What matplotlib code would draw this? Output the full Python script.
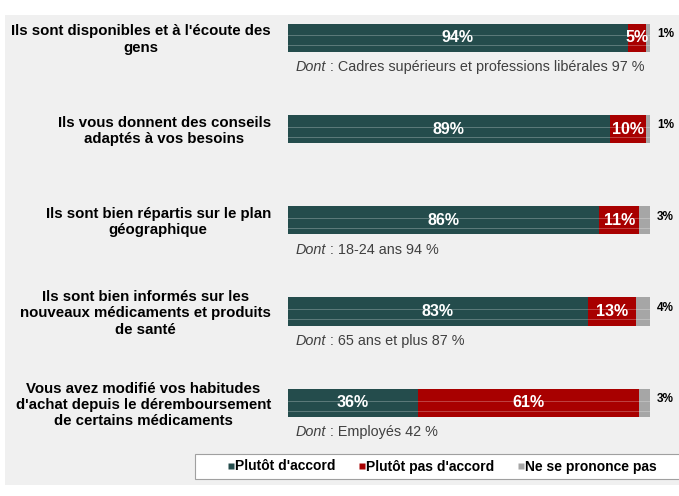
import numpy as np
import matplotlib
matplotlib.use("Agg")
import matplotlib.pyplot as plt
from matplotlib.patches import Rectangle
from matplotlib.lines import Line2D

plt.rcParams["font.family"] = ["Liberation Sans", "DejaVu Sans"]

# ------------ data --------------
questions = [
    "Ils sont disponibles et à l'écoute des\ngens",
    "Ils vous donnent des conseils\nadaptés à vos besoins",
    "Ils sont bien répartis sur le plan\ngéographique",
    "Ils sont bien informés sur les\nnouveaux médicaments et produits\nde santé",
    "Vous avez modifié vos habitudes\nd'achat depuis le déremboursement\nde certains médicaments",
]
accord = [94, 89, 86, 83, 36]
pas_accord = [5, 10, 11, 13, 61]
nsp = [1, 1, 3, 4, 3]
dont_texts = [
    " : Cadres supérieurs et professions libérales 97 %",
    None,
    " : 18-24 ans 94 %",
    " : 65 ans et plus 87 %",
    " : Employés 42 %",
]
series_names = ["Plutôt d'accord", "Plutôt pas d'accord", "Ne se prononce pas"]

TEAL = "#244c4c"
RED = "#a80000"
GREY = "#a6a6a6"
colors = [TEAL, RED, GREY]

# ------------ figure --------------
fig = plt.figure(figsize=(6.79, 4.96), dpi=100)
W, H = 679, 496

# light grey panel behind everything
fig.patches.append(Rectangle((5 / W, 1 - 485 / H), 674 / W, 470 / H,
                             transform=fig.transFigure, facecolor="#f0f0f0",
                             edgecolor="none", zorder=-5))
# white legend box
fig.patches.append(Rectangle((195 / W, 1 - 479 / H), 490 / W, 25 / H,
                             transform=fig.transFigure, facecolor="white",
                             edgecolor="#a0a0a0", linewidth=0.8, zorder=-4))

ax = fig.add_axes([287.5 / W, 0.0772, 362.5 / W, 0.9204])
ax.set_facecolor("none")
ax.set_xlim(0, 100)
ax.set_ylim(4.6, -0.4)
ax.axis("off")

y = np.arange(len(questions))
h = 0.31
left = np.zeros(len(questions))
for vals, col in zip([accord, pas_accord, nsp], colors):
    ax.barh(y, vals, left=left, height=h, color=col, edgecolor="none", zorder=2)
    left += np.array(vals)

# subtle glossy lines across the bars
for yi in y:
    for off in (-0.025, 0.085):
        ax.plot([0, 100], [yi + off, yi + off], color="white", lw=0.6, alpha=0.3, zorder=3)

for i in range(len(questions)):
    a, p, n = accord[i], pas_accord[i], nsp[i]
    ax.text(a / 2, i, f"{a}%", color="white", ha="center", va="center",
            fontsize=11.5, fontweight="bold", zorder=4)
    ax.text(a + p / 2, i, f"{p}%", color="white", ha="center", va="center",
            fontsize=11.5, fontweight="bold", zorder=4)
    ax.text(101.9, i - 0.04, f"{n}%", color="black", ha="left", va="center",
            fontsize=8.5, fontweight="bold", zorder=4)
    ax.text(-4.6, i + 0.02, questions[i], ha="right", va="center", fontsize=10.8,
            fontweight="bold", linespacing=1.2, multialignment="center",
            color="black")
    if dont_texts[i]:
        t = ax.text(2.3, i + 0.32, "Dont", style="italic", ha="left", va="center",
                    fontsize=10.4, color="#404040")
        ax.annotate(dont_texts[i], xycoords=t, xy=(1, 0.5), va="center",
                    fontsize=10.4, color="#404040")

# legend
handles = [Line2D([0], [0], marker="s", color="none", markerfacecolor=c,
                  markeredgecolor="none", markersize=5) for c in colors]
leg = fig.legend(handles, series_names, loc="center left",
                 bbox_to_anchor=(227 / W, 1 - 466.5 / H), ncol=3, frameon=False,
                 prop={"weight": "bold", "size": 10}, handletextpad=0.05,
                 handlelength=0.55, columnspacing=1.6, borderpad=0,
                 borderaxespad=0)

fig.savefig("out.png", dpi=100)
